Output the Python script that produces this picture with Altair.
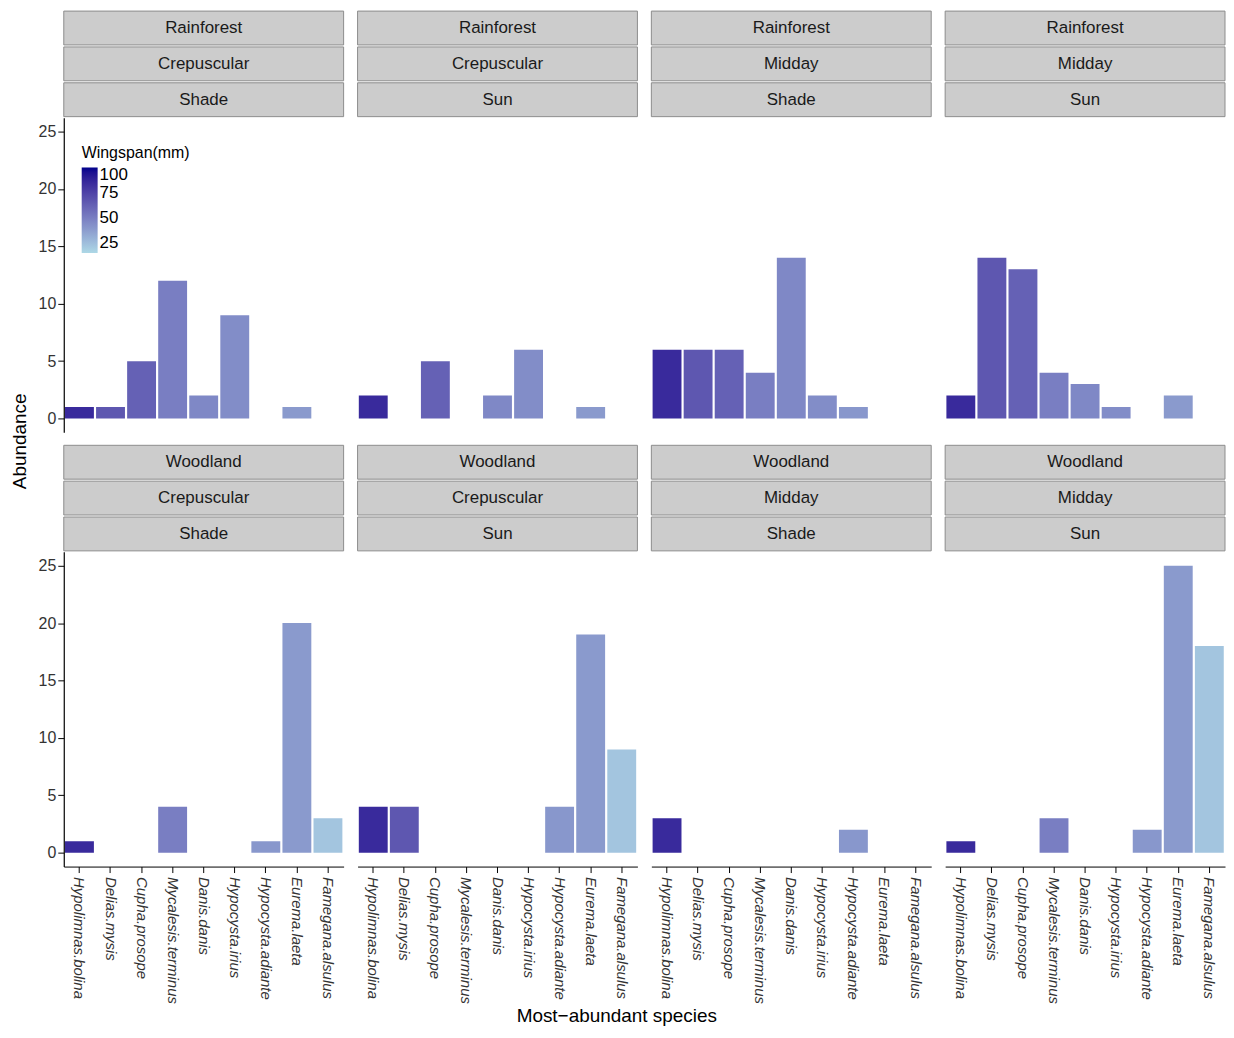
import pandas as pd
import altair as alt

species = ['Hypolimnas.bolina', 'Delias.mysis', 'Cupha.prosope', 'Mycalesis.terminus',
           'Danis.danis', 'Hypocysta.irius', 'Hypocysta.adiante', 'Eurema.laeta',
           'Famegana.alsulus']
wingspan = [85, 66, 62, 50, 46, 44, 40, 39, 22]

habitat = ['Rainforest'] * 4 + ['Woodland'] * 4
period = ['Crepuscular', 'Crepuscular', 'Midday', 'Midday'] * 2
light = ['Shade', 'Sun'] * 4

abundance = [
    [1, 1, 5, 12, 2, 9, 0, 1, 0],
    [2, 0, 5, 0, 2, 6, 0, 1, 0],
    [6, 6, 6, 4, 14, 2, 1, 0, 0],
    [2, 14, 13, 4, 3, 1, 0, 2, 0],
    [1, 0, 0, 4, 0, 0, 1, 20, 3],
    [4, 4, 0, 0, 0, 0, 4, 19, 9],
    [3, 0, 0, 0, 0, 0, 2, 0, 0],
    [1, 0, 0, 3, 0, 0, 2, 25, 18],
]

FONT = 'Liberation Sans'
W, H, SH = 281, 316, 34
color_scale = alt.Scale(domain=[15, 100], range=['#add8e6', '#00008b'], interpolate='lab')


def strip(label):
    df = pd.DataFrame({'t': [label]})
    base = alt.Chart(df).properties(width=W, height=SH)
    r = base.mark_rect(fill='#cccccc', stroke='#8c8c8c', strokeWidth=1).encode(
        x=alt.value(0), x2=alt.value(W), y=alt.value(0), y2=alt.value(SH))
    t = base.mark_text(font=FONT, fontSize=17, color='#1a1a1a').encode(
        x=alt.value(W / 2), y=alt.value(SH / 2), text='t:N')
    return alt.layer(r, t)


def panel(i, row, col):
    df = pd.DataFrame({'species': species, 'wingspan': wingspan, 'n': abundance[i]})
    xaxis = alt.Axis(labelAngle=90, labelAlign='left', labelBaseline='middle',
                     labelFontStyle='italic', labelFontSize=15, labelFont=FONT,
                     labelColor='#333333', domainColor='black', tickColor='black',
                     tickSize=6, labelPadding=4, title=None) if row == 1 else None
    yaxis = alt.Axis(values=[0, 5, 10, 15, 20, 25], labelFontSize=16, labelFont=FONT,
                     labelColor='#333333', domainColor='black', tickColor='black',
                     domainWidth=1.2, tickSize=6, grid=False, title=None) if col == 0 else None
    legend = alt.Legend(title='Wingspan(mm)', orient='none', legendX=18, legendY=28,
                        values=[25, 50, 75, 100], gradientLength=86, gradientThickness=16,
                        labelOverlap=False, titleFont=FONT, titleFontSize=16,
                        titleFontWeight='normal', titleColor='black', titlePadding=6,
                        labelFont=FONT, labelFontSize=17, labelColor='black',
                        gradientStrokeWidth=0) if i == 0 else None
    enc = dict(
        x=alt.X('species:N', sort=species, axis=xaxis,
                scale=alt.Scale(paddingInner=0.07, paddingOuter=0.04)),
        y=alt.Y('n:Q', axis=yaxis, scale=alt.Scale(domain=[-1.2, 26.2], nice=False)),
        y2=alt.datum(0),
        color=alt.Color('wingspan:Q', scale=color_scale,
                        **({'legend': legend} if legend else {'legend': None})),
    )
    bars = alt.Chart(df).mark_bar(clip=True).encode(**enc).properties(width=W, height=H)
    return alt.vconcat(strip(habitat[i]), strip(period[i]), strip(light[i]), bars,
                       spacing=0).resolve_scale(color='independent')


rows = []
for r in range(2):
    rows.append(alt.hconcat(*[panel(r * 4 + c, r, c) for c in range(4)],
                            spacing=12).resolve_scale(color='independent'))
grid = alt.vconcat(*rows, spacing=12).resolve_scale(color='independent')

ytitle = alt.Chart(pd.DataFrame({'t': ['Abundance']})).mark_text(
    font=FONT, fontSize=19, angle=270, color='black').encode(
    x=alt.value(12), y=alt.value(432), text='t:N').properties(width=30, height=860)

chart = alt.hconcat(ytitle, grid, spacing=0).resolve_scale(color='independent').properties(
    padding={'left': 0, 'top': 0, 'right': 0, 'bottom': 0},
    title=alt.TitleParams('Most−abundant species', orient='bottom', anchor='middle',
                          font=FONT, fontSize=19, fontWeight='normal', offset=4)
).configure_view(stroke=None)

chart.save("out.html", embed_options={"renderer": "svg", "actions": False})
